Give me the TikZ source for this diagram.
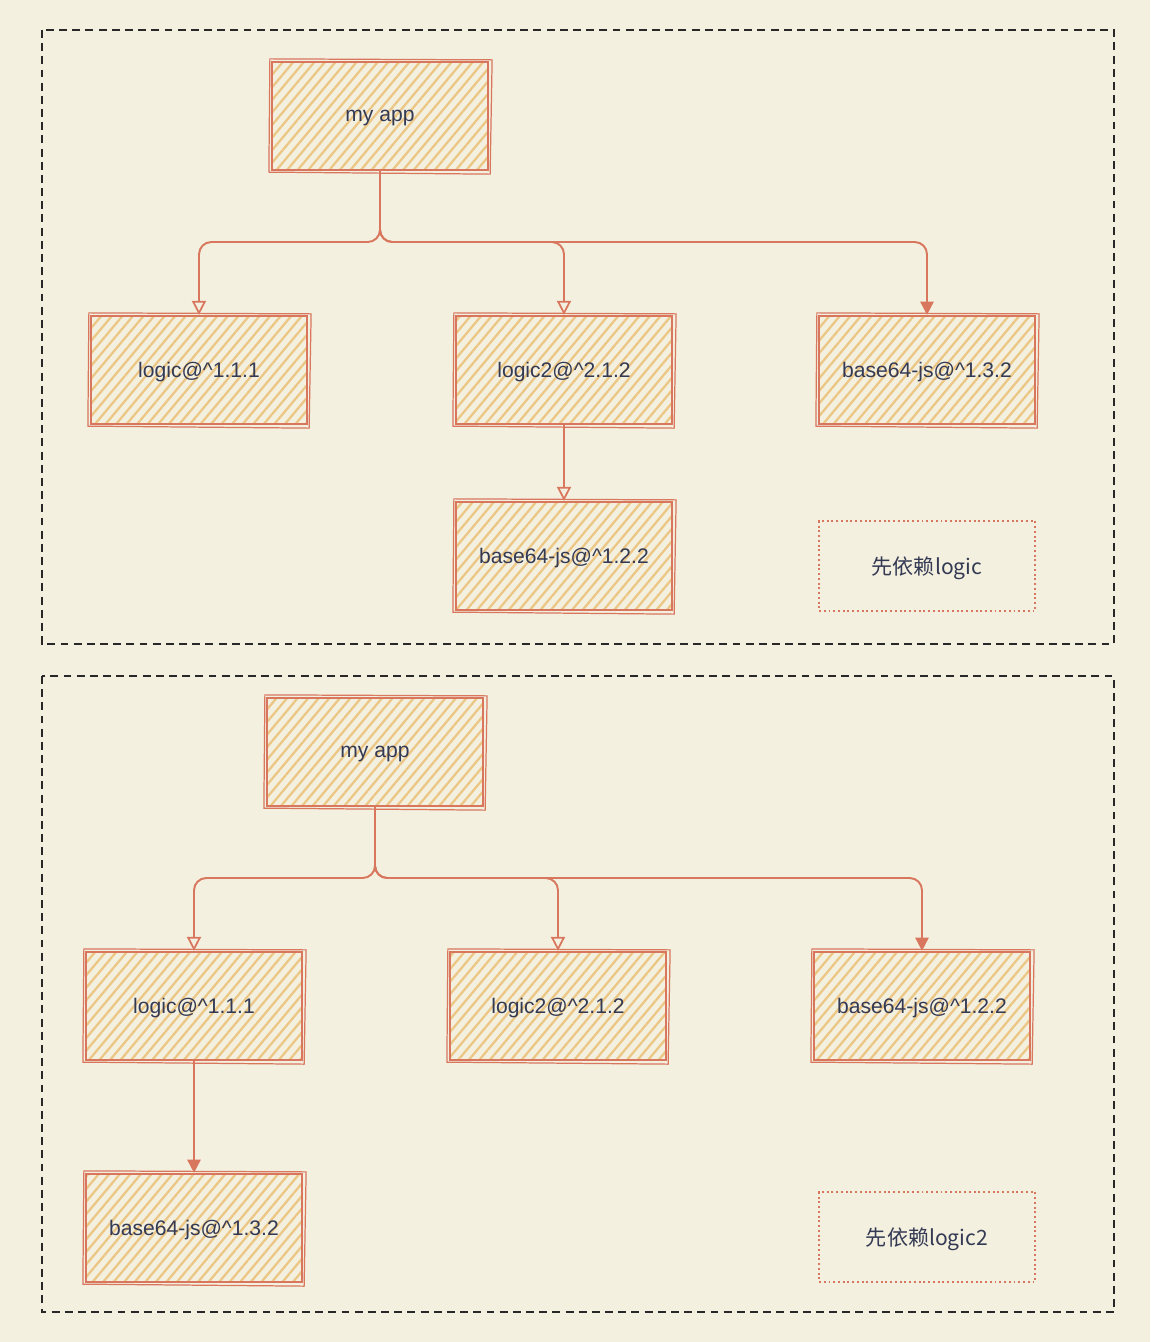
\documentclass[tikz,border=0pt]{standalone}
\usepackage{fontspec}
\setmainfont{Liberation Sans}
\newfontfamily\cjk{Noto Sans CJK SC}
\usetikzlibrary{patterns.meta,arrows.meta}
\definecolor{paper}{RGB}{244,240,223}
\definecolor{edgecol}{RGB}{216,118,94}
\definecolor{hatch}{RGB}{236,198,132}
\definecolor{ink}{RGB}{52,58,84}
\definecolor{frame}{RGB}{40,40,40}

% second, slightly offset outline for a hand-drawn look
\newcommand\roughbox[1]{%
  \draw[draw=edgecol, line width=0.7pt]
    ([shift={(-1,-2)}]#1.north west) -- ([shift={(3,-1)}]#1.north east)
    -- ([shift={(1,3)}]#1.south east) -- ([shift={(-2,1)}]#1.south west) -- cycle;}

\begin{document}
\begin{tikzpicture}[x=0.02cm,y=-0.02cm,
  pkg/.style={draw=edgecol, line width=1.3pt, minimum width=4.32cm, minimum height=2.16cm,
    pattern={Lines[angle=50,distance=4.6pt,line width=1.3pt]}, pattern color=hatch,
    text=ink, font=\fontsize{12}{14}\selectfont, inner sep=0pt, text depth=0pt},
  note/.style={draw=edgecol, line width=0.8pt, dash pattern=on 1.1pt off 1.6pt,
    minimum width=4.32cm, minimum height=1.8cm, inner sep=0pt, text depth=0pt,
    text=ink, font=\cjk\fontsize{12}{14}\selectfont},
  panel/.style={draw=frame, line width=0.8pt, dash pattern=on 4.5pt off 3pt},
  conn/.style={draw=edgecol, line width=1.1pt, rounded corners=7pt},
  openhead/.style={-{Triangle[open,length=8pt,width=8pt,line width=1pt]}},
  fullhead/.style={-{Triangle[length=7.5pt,width=7.5pt]}},
]
\useasboundingbox[fill=paper] (0,0) rectangle (1150,1342);

% ---------- first panel ----------
\draw[panel] (42,30) rectangle (1114,644);

\node[pkg] (appA)  at (380,116) {my app};
\node[pkg] (logA)  at (199,370) {logic@\^{}1.1.1};
\node[pkg] (log2A) at (564,370) {logic2@\^{}2.1.2};
\node[pkg] (b64A)  at (927,370) {base64-js@\^{}1.3.2};
\node[pkg] (b64Ab) at (564,556) {base64-js@\^{}1.2.2};
\node[note] (noteA) at (927,566) {先依赖logic};
\foreach \n in {appA,logA,log2A,b64A,b64Ab} {\roughbox{\n}}

\coordinate (jA) at (380,242);
\draw[conn, openhead] (appA.south) -- (jA) -| (logA.north);
\draw[conn, openhead] (appA.south) -- (jA) -| (log2A.north);
\draw[conn, fullhead] (appA.south) -- (jA) -| (b64A.north);
\draw[conn, openhead] (log2A.south) -- (b64Ab.north);

% ---------- second panel ----------
\draw[panel] (42,676) rectangle (1114,1312);

\node[pkg] (appB)  at (375,752)  {my app};
\node[pkg] (logB)  at (194,1006) {logic@\^{}1.1.1};
\node[pkg] (log2B) at (558,1006) {logic2@\^{}2.1.2};
\node[pkg] (b64B)  at (922,1006) {base64-js@\^{}1.2.2};
\node[pkg] (b64Bb) at (194,1228) {base64-js@\^{}1.3.2};
\node[note] (noteB) at (927,1237) {先依赖logic2};
\foreach \n in {appB,logB,log2B,b64B,b64Bb} {\roughbox{\n}}

\coordinate (jB) at (375,878);
\draw[conn, openhead] (appB.south) -- (jB) -| (logB.north);
\draw[conn, openhead] (appB.south) -- (jB) -| (log2B.north);
\draw[conn, fullhead] (appB.south) -- (jB) -| (b64B.north);
\draw[conn, fullhead] (logB.south) -- (b64Bb.north);
\end{tikzpicture}
\end{document}
